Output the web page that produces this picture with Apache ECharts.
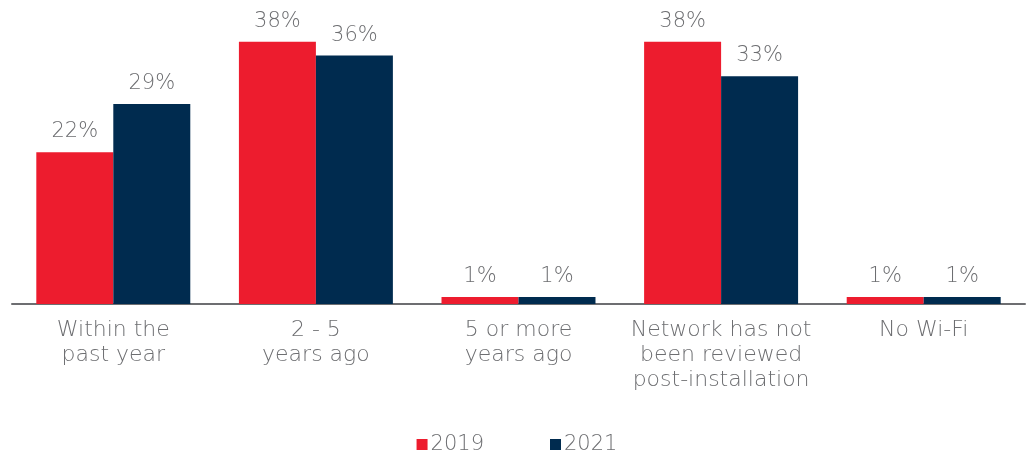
<!DOCTYPE html>
<html>
<head>
<meta charset="utf-8">
<script src="https://cdn.jsdelivr.net/npm/echarts@6/dist/echarts.min.js"></script>
<style>
  html, body { margin: 0; padding: 0; background: #fff; }
  #chart { width: 1034px; height: 459px; }
</style>
</head>
<body>
<div id="chart"></div>
<script>
const categories = [
  'Within the\npast year',
  '2 - 5\nyears ago',
  '5 or more\nyears ago',
  'Network has not\nbeen reviewed\npost-installation',
  'No Wi-Fi'
]
const values2019 = [22, 38, 1, 38, 1]
const values2021 = [29, 36, 1, 33, 1]
const seriesNames = ['2019', '2021']

const textColor = '#6d6e71'
const fontFamily = '"DejaVu Sans", "Open Sans", sans-serif'

const chart = echarts.init(document.getElementById('chart'))

const labelStyle = {
  show: true,
  position: 'top',
  distance: 10,
  color: textColor,
  fontSize: 21,
  fontFamily: fontFamily,
  fontWeight: 300,
  formatter: '{c}%'
}

const option = {
  animation: false,
  textStyle: { fontFamily: fontFamily },
  legend: {
    bottom: -1,
    left: 'center',
    itemWidth: 11,
    itemHeight: 11,
    itemGap: 66,
    icon: 'rect',
    textStyle: { color: textColor, fontSize: 21, fontWeight: 300, fontFamily: fontFamily, padding: [0, 0, 0, -2] },
    data: seriesNames
  },
  grid: {
    left: 12,
    right: 9,
    top: 28,
    bottom: 155
  },
  xAxis: {
    type: 'category',
    data: categories,
    axisLine: { lineStyle: { color: '#6d6e71', width: 2 } },
    axisTick: { show: false },
    axisLabel: {
      color: textColor,
      fontSize: 22,
      fontWeight: 300,
      lineHeight: 25,
      margin: 14,
      fontFamily: fontFamily,
      interval: 0
    }
  },
  yAxis: {
    type: 'value',
    min: 0,
    max: 40,
    show: false,
    splitLine: { show: false }
  },
  series: [
    {
      name: seriesNames[0],
      type: 'bar',
      data: values2019,
      barGap: '0%',
      barCategoryGap: '24%',
      itemStyle: { color: '#ed1c2e' },
      label: labelStyle
    },
    {
      name: seriesNames[1],
      type: 'bar',
      data: values2021,
      itemStyle: { color: '#002b4f' },
      label: labelStyle
    }
  ]
}

chart.setOption(option)
window.addEventListener('resize', () => chart.resize())
</script>
</body>
</html>
